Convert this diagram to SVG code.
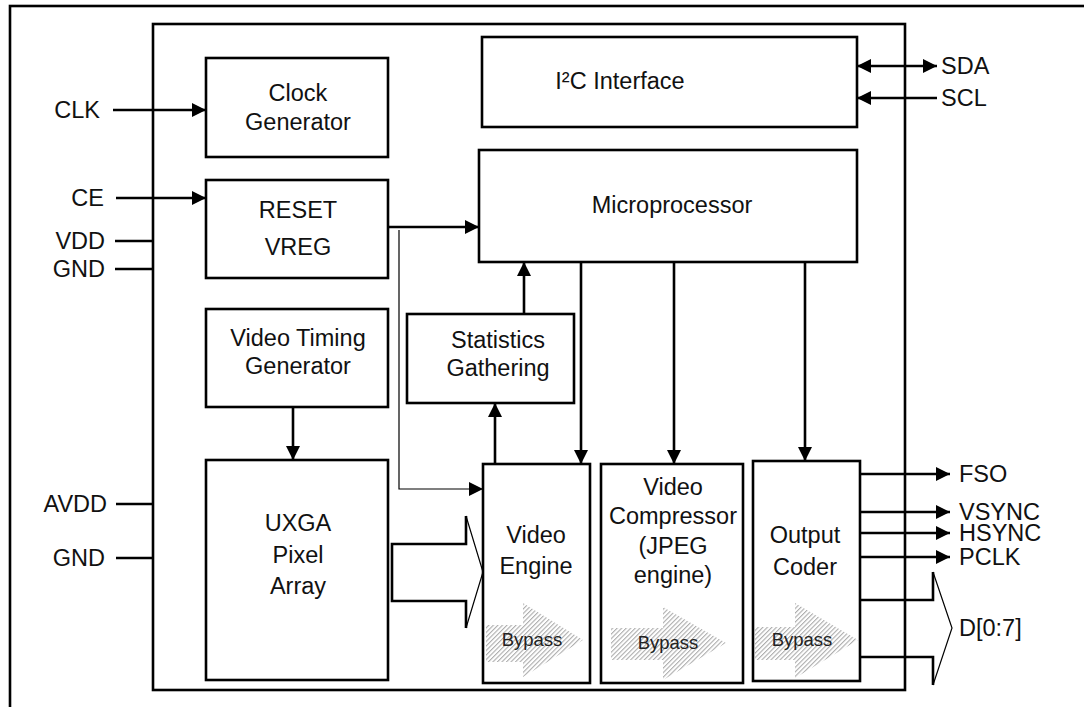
<svg xmlns="http://www.w3.org/2000/svg" width="1084" height="707" viewBox="0 0 1084 707">
<style>
.box{fill:#fff;stroke:#000;stroke-width:2.6}
.ln{fill:none;stroke:#000;stroke-width:2.6}
.thin{fill:none;stroke:#000;stroke-width:1.2}
text{font-family:"Liberation Sans",Arial,sans-serif;font-size:23.5px;fill:#111}
.c{text-anchor:middle}
.e{text-anchor:end}
.bp{font-size:18.5px;text-anchor:middle;fill:#222}
.hatch{fill:url(#hp);stroke:none}
</style>
<defs>
<marker id="ar" markerUnits="userSpaceOnUse" markerWidth="14" markerHeight="14" refX="14" refY="7" orient="auto-start-reverse">
<path d="M0,0 L14,7 L0,14 z" fill="#000"/>
</marker>
<pattern id="hp" patternUnits="userSpaceOnUse" width="3.2" height="3.2" patternTransform="rotate(45)">
<line x1="0.6" y1="0" x2="0.6" y2="3.2" stroke="#9a9a9a" stroke-width="0.9"/>
</pattern>
</defs>
<rect x="10" y="6" width="1090" height="710" fill="none" stroke="#000" stroke-width="2.6"/>
<rect id="chip" x="153" y="24" width="752" height="666" class="box"/>

<g id="i2c"><rect x="482" y="37" width="375" height="90" class="box"/><text x="620" y="89" class="c">I²C Interface</text></g>
<g id="micro"><rect x="479" y="150" width="378" height="112" class="box"/><text x="672" y="213" class="c">Microprocessor</text></g>
<g id="clockgen"><rect x="206" y="58" width="182" height="99" class="box"/><text x="298" y="101" class="c">Clock</text><text x="298" y="130" class="c">Generator</text></g>
<g id="reset"><rect x="206" y="180" width="182" height="98" class="box"/><text x="298" y="218" class="c">RESET</text><text x="298" y="255" class="c">VREG</text></g>
<g id="vtg"><rect x="206" y="309" width="182" height="98" class="box"/><text x="298" y="346" class="c">Video Timing</text><text x="298" y="374" class="c">Generator</text></g>
<g id="stats"><rect x="407" y="314" width="167" height="89" class="box"/><text x="498" y="348" class="c">Statistics</text><text x="498" y="376" class="c">Gathering</text></g>
<g id="uxga"><rect x="206" y="460" width="182" height="220" class="box"/><text x="298" y="531" class="c">UXGA</text><text x="298" y="563" class="c">Pixel</text><text x="298" y="594" class="c">Array</text></g>

<g id="vengine"><rect x="483" y="464" width="107" height="219" class="box"/>
<path class="hatch" d="M486,625 L523,625 L523,603 L583,640 L523,677 L523,662 L486,662 z"/>
<text x="536" y="543" class="c">Video</text><text x="536" y="574" class="c">Engine</text>
<text x="532" y="646" class="bp">Bypass</text></g>

<g id="vcomp"><rect x="601" y="464" width="142" height="219" class="box"/>
<path class="hatch" d="M611,628 L663,628 L663,607 L726,643 L663,680 L663,660 L611,660 z"/>
<text x="673" y="495" class="c">Video</text><text x="673" y="524" class="c">Compressor</text><text x="673" y="554" class="c">(JPEG</text><text x="673" y="583" class="c">engine)</text>
<text x="668" y="649" class="bp">Bypass</text></g>

<g id="ocoder"><rect x="753" y="461" width="107" height="220" class="box"/>
<path class="hatch" d="M755,627 L795,627 L795,603 L858,640 L795,678 L795,660 L755,660 z"/>
<text x="805" y="543" class="c">Output</text><text x="805" y="575" class="c">Coder</text>
<text x="802" y="646" class="bp">Bypass</text></g>

<g id="labels">
<text x="100" y="118" class="e">CLK</text>
<text x="104" y="206" class="e">CE</text>
<text x="105" y="249" class="e">VDD</text>
<text x="105" y="277" class="e">GND</text>
<text x="107" y="512" class="e">AVDD</text>
<text x="105" y="566" class="e">GND</text>
<text x="941" y="74">SDA</text>
<text x="941" y="106">SCL</text>
<text x="959" y="482">FSO</text>
<text x="959" y="520">VSYNC</text>
<text x="959" y="541">HSYNC</text>
<text x="959" y="565">PCLK</text>
<text x="959" y="636">D[0:7]</text>
</g>

<g id="connectors">
<line class="ln" x1="113" y1="110" x2="206" y2="110" marker-end="url(#ar)"/>
<line class="ln" x1="116" y1="198" x2="206" y2="198" marker-end="url(#ar)"/>
<line class="ln" x1="115" y1="241" x2="153" y2="241"/>
<line class="ln" x1="115" y1="269" x2="153" y2="269"/>
<line class="ln" x1="116" y1="504" x2="153" y2="504"/>
<line class="ln" x1="116" y1="558" x2="153" y2="558"/>
<line class="ln" x1="388" y1="227" x2="479" y2="227" marker-end="url(#ar)"/>
<polyline class="thin" points="399,230 399,489 483,489" marker-end="url(#ar)"/>
<line class="ln" x1="524" y1="314" x2="524" y2="262" marker-end="url(#ar)"/>
<line class="ln" x1="495" y1="464" x2="495" y2="403" marker-end="url(#ar)"/>
<line class="ln" x1="581" y1="262" x2="581" y2="464" marker-end="url(#ar)"/>
<line class="ln" x1="674" y1="262" x2="674" y2="464" marker-end="url(#ar)"/>
<line class="ln" x1="805" y1="262" x2="805" y2="461" marker-end="url(#ar)"/>
<line class="ln" x1="293" y1="407" x2="293" y2="460" marker-end="url(#ar)"/>
<line class="ln" x1="857" y1="66" x2="937" y2="66" marker-start="url(#ar)" marker-end="url(#ar)"/>
<line class="ln" x1="937" y1="98" x2="857" y2="98" marker-end="url(#ar)"/>
<line class="ln" x1="860" y1="474" x2="950" y2="474" marker-end="url(#ar)"/>
<line class="ln" x1="860" y1="512" x2="950" y2="512" marker-end="url(#ar)"/>
<line class="ln" x1="860" y1="533" x2="950" y2="533" marker-end="url(#ar)"/>
<line class="ln" x1="860" y1="557" x2="950" y2="557" marker-end="url(#ar)"/>
<polyline class="ln" points="860,600 933,600 933,572"/>
<polyline class="thin" points="933,572 952,628 933,685"/>
<polyline class="ln" points="933,685 933,657 860,657"/>
<polyline class="ln" points="466,516 466,544 392,544 392,601 466,601 466,628"/>
<polyline class="thin" points="466,516 483,572 466,628"/>
</g>
</svg>
